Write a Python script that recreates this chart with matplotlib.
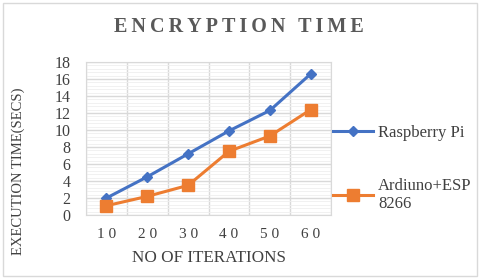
import matplotlib.pyplot as plt
from matplotlib.ticker import MultipleLocator

# ---------- data ----------
iterations = ['1 0', '2 0', '3 0', '4 0', '5 0', '6 0']
raspberry = [2.0, 4.5, 7.2, 9.9, 12.3, 16.6]
arduino = [1.1, 2.2, 3.5, 7.5, 9.3, 12.4]

plt.rcParams['font.family'] = ['Liberation Serif', 'DejaVu Serif']

fig = plt.figure(figsize=(4.8, 2.79), dpi=100)
ax = fig.add_axes([0.179, 0.229, 0.511, 0.549])

x = range(len(iterations))
ax.plot(x, raspberry, color='#4472C4', lw=2.2, marker='D', ms=5,
        label='Raspberry Pi')
ax.plot(x, arduino, color='#ED7D31', lw=2.2, marker='s', ms=8,
        label='Ardiuno+ESP\n8266')

ax.set_xlim(-0.5, 5.5)
ax.set_ylim(0, 18)
ax.set_xticks(x)
ax.set_xticklabels(iterations)
ax.yaxis.set_major_locator(MultipleLocator(2))
ax.yaxis.set_minor_locator(MultipleLocator(0.4))
ax.set_xticks([i + 0.5 for i in range(-1, 6)], minor=True)

ax.grid(which='major', axis='y', color='#d9d9d9', lw=1)
ax.grid(which='minor', axis='y', color='#efefef', lw=0.6)
ax.grid(which='minor', axis='x', color='#d9d9d9', lw=1)
ax.set_axisbelow(True)
for s in ax.spines.values():
    s.set_color('#d9d9d9')
ax.tick_params(which='both', length=0, colors='#404040')
ax.tick_params(axis='y', labelsize=11.5, pad=11)
ax.tick_params(axis='x', labelsize=11, pad=9)

ax.set_xlabel('NO OF ITERATIONS', fontsize=12.3, color='#404040', labelpad=7)
fig.text(0.038, 0.387, 'EXECUTION TIME(SECS)', rotation=90, ha='center',
         va='center', fontsize=10.5, color='#404040')
title = '\u2009'.join('ENCRYPTION') + '\u2009\u2009 ' + '\u2009'.join('TIME')
fig.text(0.498, 0.905, title, ha='center', va='center',
         fontsize=14.5, fontweight='bold', color='#595959')

ax.legend(loc='center left', bbox_to_anchor=(0.68, 0.395),
          bbox_transform=fig.transFigure, frameon=False, fontsize=12,
          handlelength=2.4, labelspacing=2.2, handletextpad=0.3,
          borderaxespad=0, labelcolor='#404040')

fig.patches.append(plt.Rectangle((0.006, 0.01), 0.988, 0.98, fill=False,
                                 ec='#d9d9d9', lw=1, transform=fig.transFigure))
fig.savefig('out.png', dpi=100)
